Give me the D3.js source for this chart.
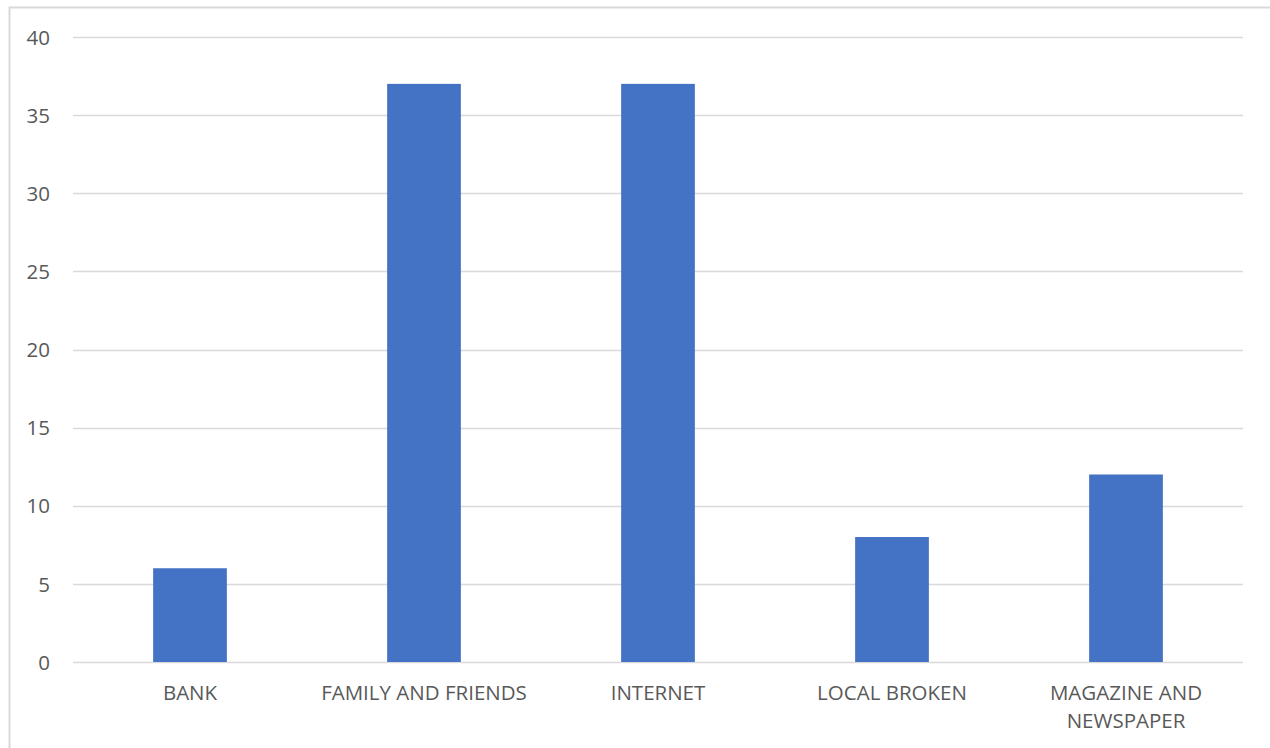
<!DOCTYPE html>
<html>
<head>
<meta charset="utf-8">
<script src="https://cdn.jsdelivr.net/npm/d3@7"></script>
<style>
  html, body { margin: 0; padding: 0; background: #fff; }
  svg { display: block; }
  text { font-family: "Open Sans", "Liberation Sans", sans-serif; fill: #595959; }
</style>
</head>
<body>
<svg id="chart" width="1270" height="748"></svg>
<script>
// Number of respondents by source of information
const categories = ["BANK", "FAMILY AND FRIENDS", "INTERNET", "LOCAL BROKEN", "MAGAZINE AND NEWSPAPER"];
const values = [6, 37, 37, 8, 12];
const yTicks = [0, 5, 10, 15, 20, 25, 30, 35, 40];

const W = 1270, H = 748;
const margin = { left: 73, right: 27, top: 37, bottom: 86 };
const fontSize = 20.5;

const svg = d3.select("#chart");

// outer chart frame
svg.append("rect")
  .attr("x", 9.5).attr("y", 7.5)
  .attr("width", W + 20).attr("height", H + 20)
  .attr("fill", "none").attr("stroke", "#d9d9d9").attr("stroke-width", 2);

const x = d3.scaleBand()
  .domain(categories)
  .range([margin.left, W - margin.right])
  .paddingInner(0.685)
  .paddingOuter(0.3425);

const y = d3.scaleLinear()
  .domain([0, 40])
  .range([H - margin.bottom, margin.top]);

// horizontal gridlines
svg.append("g")
  .selectAll("line")
  .data(yTicks)
  .join("line")
  .attr("x1", margin.left).attr("x2", W - margin.right)
  .attr("y1", d => Math.round(y(d)) + 0.5).attr("y2", d => Math.round(y(d)) + 0.5)
  .attr("stroke", "#d9d9d9").attr("stroke-width", 1.3);

// y axis labels
const yAxis = d3.axisLeft(y).tickValues(yTicks).tickSize(0).tickPadding(0);
const gy = svg.append("g").attr("transform", `translate(50,0)`).call(yAxis);
gy.select(".domain").remove();
gy.selectAll("text")
  .attr("font-size", fontSize)
  .attr("dy", "0.35em")
  .style("font-family", "'Open Sans', sans-serif")
  .attr("fill", "#595959");

// bars
svg.append("g")
  .selectAll("rect")
  .data(values)
  .join("rect")
  .attr("x", (d, i) => x(categories[i]))
  .attr("width", x.bandwidth())
  .attr("y", d => y(d))
  .attr("height", d => y(0) - y(d))
  .attr("fill", "#4472c4");

// category labels, wrapped to fit the band
const maxWidth = x.step() * 0.96;
const labels = svg.append("g")
  .selectAll("text")
  .data(categories)
  .join("text")
  .attr("text-anchor", "middle")
  .attr("font-size", fontSize)
  .attr("x", d => x(d) + x.bandwidth() / 2)
  .attr("y", y(0) + 38);

labels.each(function(d) {
  const t = d3.select(this);
  const cx = +t.attr("x");
  const words = d.split(" ");
  let lines = [[]];
  const probe = t.append("tspan");
  words.forEach(w => {
    const cur = lines[lines.length - 1];
    probe.text(cur.concat(w).join(" "));
    if (cur.length && probe.node().getComputedTextLength() > maxWidth) {
      lines.push([w]);
    } else {
      cur.push(w);
    }
  });
  probe.remove();
  lines.forEach((ln, i) => {
    t.append("tspan")
      .attr("x", cx)
      .attr("dy", i === 0 ? 0 : 28)
      .text(ln.join(" "));
  });
});
</script>
</body>
</html>
